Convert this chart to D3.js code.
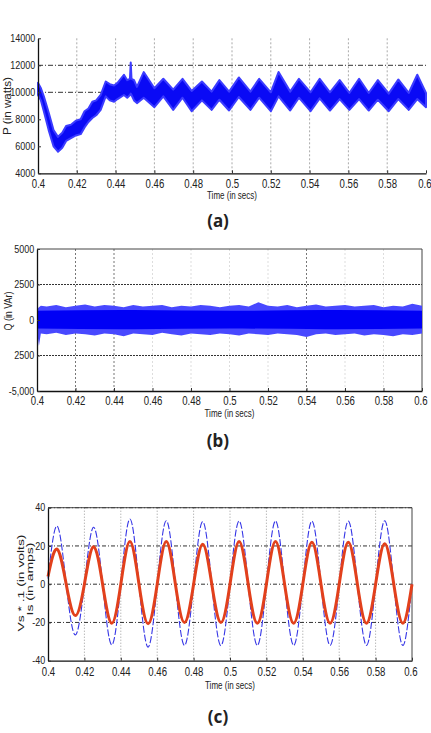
<!DOCTYPE html>
<html>
<head>
<meta charset="utf-8">
<script src="https://cdn.jsdelivr.net/npm/d3@7"></script>
<style>
  body { margin: 0; background: #fff; }
  svg { display: block; }
</style>
</head>
<body>
<div id="chart"></div>
<script>

// shared time axis
const timeTicks = [0.4, 0.42, 0.44, 0.46, 0.48, 0.5, 0.52, 0.54, 0.56, 0.58, 0.6];
const timeTickLabels = ["0.4", "0.42", "0.44", "0.46", "0.48", "0.5", "0.52", "0.54", "0.56", "0.58", "0.6"];

// (a) active power P, envelope of the noisy trace (watts)
const pTimes = [0.400, 0.4015, 0.403, 0.4055, 0.408, 0.4103, 0.4125, 0.4145, 0.417, 0.4195,
  0.422, 0.424, 0.426, 0.428, 0.430, 0.4323, 0.4349, 0.437, 0.4392, 0.441,
  0.4443, 0.446, 0.4474, 0.4478, 0.4482, 0.4495, 0.451, 0.4545, 0.4600, 0.4646,
  0.4697, 0.4745, 0.4792, 0.4845, 0.4895, 0.4935, 0.4985, 0.5035, 0.5095, 0.5140,
  0.5200, 0.5240, 0.5300, 0.5345, 0.5405, 0.5452, 0.5505, 0.5555, 0.5605, 0.5655,
  0.5705, 0.5752, 0.5808, 0.5857, 0.5911, 0.5955, 0.600];
const pUpper = [10700, 10300, 9700, 8500, 7200, 6700, 7000, 7500, 7600, 7900,
  8000, 8600, 8800, 9300, 9400, 9800, 10800, 10600, 10500, 10700,
  11300, 10900, 11000, 12200, 11000, 10900, 10400, 11500, 10300, 11000,
  10200, 11000, 10100, 10800, 10050, 10900, 10050, 11100, 10050, 11000,
  10000, 11500, 10050, 11000, 10000, 11000, 10000, 10900, 9950, 11000,
  9950, 10900, 9900, 10950, 9950, 11300, 9950];
const pLower = [9800, 9400, 8600, 7200, 6000, 5600, 5900, 6400, 6600, 6800,
  6900, 7400, 7800, 8100, 8300, 8700, 9700, 9400, 9300, 9500,
  9800, 9600, 9800, 9900, 9800, 9400, 9200, 9600, 8900, 9700,
  8700, 9600, 8600, 9400, 8700, 9450, 8650, 9650, 8700, 9600,
  8600, 9700, 8650, 9600, 8600, 9550, 8650, 9500, 8700, 9500,
  8650, 9450, 8600, 9500, 8700, 9500, 8900];
const pTicks = [4000, 6000, 8000, 10000, 12000, 14000];
const pTickLabels = ["4000", "6000", "8000", "10000", "12000", "14000"];
const pGrid = [10000, 12000];

// (b) reactive power Q, outer envelope and dense core (VAr)
const qTimes = [0.400, 0.401, 0.402, 0.405, 0.410, 0.415, 0.420, 0.425, 0.430, 0.435,
  0.440, 0.445, 0.450, 0.455, 0.460, 0.465, 0.470, 0.475, 0.480, 0.485,
  0.490, 0.495, 0.500, 0.505, 0.510, 0.515, 0.520, 0.525, 0.530, 0.535,
  0.540, 0.545, 0.550, 0.555, 0.560, 0.565, 0.570, 0.575, 0.580, 0.585,
  0.590, 0.595, 0.600];
const qUpper = [750, 900, 1000, 950, 1050, 900, 1000, 1100, 950, 1050,
  1000, 900, 1050, 950, 1000, 1050, 900, 1000, 950, 1050,
  1000, 900, 1000, 1050, 950, 1250, 1000, 950, 1050, 900,
  1000, 1100, 950, 1000, 1050, 950, 1000, 1050, 900, 1000,
  950, 1150, 1000];
const qLower = [-700, -1830, -950, -1000, -900, -1050, -950, -1000, -1100, -950,
  -1000, -1150, -950, -1000, -1050, -900, -1000, -1100, -950, -1000,
  -1050, -950, -1000, -1100, -950, -1000, -1050, -950, -1000, -1050,
  -1200, -1000, -950, -1050, -1000, -950, -1100, -1000, -1050, -1150,
  -1000, -1050, -950];
const qCoreTimes = [0.4, 0.45, 0.5, 0.55, 0.6];
const qCoreUpper = [650, 700, 650, 700, 650];
const qCoreLower = [-600, -650, -600, -650, -600];
const qTicks = [-5000, -2500, 0, 2500, 5000];
const qTickLabels = ["-5,000", "2500", "0", "2500", "5000"];
const qGrid = [-2500, 2500];
const qDarkGrid = [0.42, 0.44, 0.54];

// (c) source voltage * 0.1 (blue dashed) and source current (red), quarter-period samples
const cTimes = [0.400, 0.405, 0.410, 0.415, 0.420, 0.425, 0.430, 0.435, 0.440, 0.445,
  0.450, 0.455, 0.460, 0.465, 0.470, 0.475, 0.480, 0.485, 0.490, 0.495,
  0.500, 0.505, 0.510, 0.515, 0.520, 0.525, 0.530, 0.535, 0.540, 0.545,
  0.550, 0.555, 0.560, 0.565, 0.570, 0.575, 0.580, 0.585, 0.590, 0.595, 0.600];
const vsScaled = [3, 30.4, 0, -26.5, 0, 29.8, 0, -31.7, 0, 34.1,
  0, -32.9, 0, 33.2, 0, -32, 0, 32.7, 0, -32.1,
  0, 33, 0, -32, 0, 33, 0, -32, 0, 33,
  0, -32, 0, 33, 0, -32, 0, 33.2, 0, -32, 0];
const isCurrent = [4, 18.3, 0, -16.4, 0, 19.6, 0, -20.4, 0, 22.3,
  0, -20.7, 0, 22.3, 0, -20, 0, 20.9, 0, -20,
  0, 22.3, 0, -20.4, 0, 22.3, 0, -20.4, 0, 21.9,
  0, -20.4, 0, 21.9, 0, -20.4, 0, 21.2, 0, -20.4, 0];
const cTicks = [-40, -20, 0, 20, 40];
const cTickLabels = ["-40", "-20", "0", "20", "40"];
const cGrid = [-20, 0, 20, 40];


const width = 431, height = 733;
const tickFont = "'Liberation Sans Narrow', 'Liberation Sans', Arial, sans-serif";

const svg = d3.select("#chart")
  .append("svg")
  .attr("width", width)
  .attr("height", height)
  .style("font-family", tickFont);


function makePanel(s) {
  const x = d3.scaleLinear().domain([0.4, 0.6]).range([s.left, s.right]);
  const y = d3.scaleLinear().domain(s.yDomain).range([s.bottom, s.top]);
  const g = svg.append("g");

  // vertical grid
  g.append("g")
    .selectAll("line")
    .data(timeTicks.slice(1, -1))
    .join("line")
      .attr("x1", d => x(d)).attr("x2", d => x(d))
      .attr("y1", s.top).attr("y2", s.bottom)
      .attr("stroke", d => s.darkV && s.darkV.includes(d) ? "#777" : s.vColor)
      .attr("stroke-width", 1)
      .attr("stroke-dasharray", s.vDash);

  // horizontal grid
  g.append("g")
    .selectAll("line")
    .data(s.hGrid)
    .join("line")
      .attr("x1", s.left).attr("x2", s.right)
      .attr("y1", d => y(d)).attr("y2", d => y(d))
      .attr("stroke", "#333")
      .attr("stroke-width", 1)
      .attr("stroke-dasharray", s.hDash);

  if (s.boxed) {
    g.append("line")
      .attr("x1", s.left).attr("x2", s.right)
      .attr("y1", s.top).attr("y2", s.top)
      .attr("stroke", "#444");
    g.append("line")
      .attr("x1", s.right).attr("x2", s.right)
      .attr("y1", s.top).attr("y2", s.bottom)
      .attr("stroke", "#444");
  }

  const dataLayer = g.append("g");

  const xAxis = g.append("g")
    .attr("transform", `translate(0,${s.bottom})`)
    .call(d3.axisBottom(x)
      .tickValues(timeTicks)
      .tickFormat((d, i) => timeTickLabels[i])
      .tickSizeInner(-3)
      .tickSizeOuter(0)
      .tickPadding(s.xPad));
  xAxis.selectAll("text")
    .attr("transform", "scale(0.8,1)")
    .style("font-size", "12px")
    .attr("fill", "#222");
  // last label sits on the page edge
  xAxis.selectAll(".tick:last-of-type text").attr("x", -2);

  const yAxis = g.append("g")
    .attr("transform", `translate(${s.left},0)`)
    .call(d3.axisLeft(y)
      .tickValues(s.yTicks)
      .tickFormat((d, i) => s.yTickLabels[i])
      .tickSizeInner(-3)
      .tickSizeOuter(0)
      .tickPadding(3));
  yAxis.selectAll("text")
    .attr("transform", "scale(0.9,1)")
    .style("font-size", "10px")
    .attr("fill", "#222");

  [xAxis, yAxis].forEach(a => {
    a.select(".domain").attr("stroke", "#111").attr("stroke-width", 1.3);
    a.selectAll(".tick line").attr("stroke", "#333");
  });

  g.append("text")
    .attr("x", (s.left + s.right) / 2)
    .attr("y", s.titleY)
    .attr("text-anchor", "middle")
    .attr("textLength", 50)
    .attr("lengthAdjust", "spacingAndGlyphs")
    .style("font-size", "11.5px")
    .attr("fill", "#222")
    .text("Time (in secs)");

  s.yTitles.forEach(t => {
    g.append("text")
      .attr("transform", `translate(${t.x},${t.y}) rotate(-90)`)
      .attr("text-anchor", "middle")
      .attr("dy", "0.35em")
      .attr("textLength", t.len)
      .attr("lengthAdjust", "spacingAndGlyphs")
      .style("font-size", t.size + "px")
      .attr("fill", "#222")
      .text(t.text);
  });

  svg.append("text")
    .attr("x", 218)
    .attr("y", s.captionY)
    .attr("text-anchor", "middle")
    .style("font-family", "'Noto Sans', 'DejaVu Sans', sans-serif")
    .style("font-weight", "bold")
    .style("font-size", "17px")
    .attr("fill", "#222")
    .text(s.caption);

  return { x, y, layer: dataLayer };
}


// ---- (a)
const pa = makePanel({
  left: 38, right: 426, top: 38.3, bottom: 173.3,
  yDomain: [4000, 14000], yTicks: pTicks, yTickLabels: pTickLabels,
  hGrid: pGrid, hDash: "5,2,1,2", vColor: "#aaa", vDash: "2,2",
  boxed: false, xPad: 6, titleY: 199,
  yTitles: [{ text: "P (in watts)", x: 7.5, y: 106, len: 58, size: 11 }],
  caption: "(a)", captionY: 227
});

const pData = pTimes.map((t, i) => ({ t, hi: pUpper[i], lo: pLower[i] }));
pa.layer.append("path")
  .datum(pData)
  .attr("fill", "#0a0af5")
  .attr("stroke", "#3c3cff")
  .attr("stroke-width", 2)
  .attr("stroke-linejoin", "round")
  .attr("d", d3.area()
    .x(d => pa.x(d.t))
    .y0(d => pa.y(d.lo))
    .y1(d => pa.y(d.hi)));


// ---- (b)
const pb = makePanel({
  left: 37, right: 422, top: 249, bottom: 391,
  yDomain: [-5000, 5000], yTicks: qTicks, yTickLabels: qTickLabels,
  hGrid: qGrid, hDash: "2,1", vColor: "#ddd", vDash: "2,2", darkV: qDarkGrid,
  boxed: true, xPad: 5.5, titleY: 417,
  yTitles: [{ text: "Q (in VAr)", x: 8, y: 311, len: 39, size: 11 }],
  caption: "(b)", captionY: 447
});

const qData = qTimes.map((t, i) => ({ t, hi: qUpper[i], lo: qLower[i] }));
const qCore = qCoreTimes.map((t, i) => ({ t, hi: qCoreUpper[i], lo: qCoreLower[i] }));
const qArea = d3.area()
  .x(d => pb.x(d.t))
  .y0(d => pb.y(d.lo))
  .y1(d => pb.y(d.hi));
pb.layer.append("path")
  .datum(qData)
  .attr("fill", "#4848ff")
  .attr("d", qArea);
pb.layer.append("path")
  .datum(qCore)
  .attr("fill", "#0000f5")
  .attr("d", qArea.curve(d3.curveNatural));


// ---- (c)
const pc = makePanel({
  left: 48, right: 412, top: 507.7, bottom: 660.7,
  yDomain: [-40, 40], yTicks: cTicks, yTickLabels: cTickLabels,
  hGrid: cGrid, hDash: "4,2,1,2", vColor: "#999", vDash: "1,2",
  boxed: true, xPad: 6.8, titleY: 689,
  yTitles: [
    { text: "Vs * .1 (in volts)", x: 20.5, y: 583, len: 97, size: 9.5 },
    { text: "Is (in amps)", x: 29.5, y: 579, len: 73, size: 9.5 }
  ],
  caption: "(c)", captionY: 723
});

const cLine = series => d3.line()
  .x((d, i) => pc.x(cTimes[i]))
  .y(d => pc.y(d))
  .curve(d3.curveNatural)(series);

pc.layer.append("path")
  .attr("d", cLine(vsScaled))
  .attr("fill", "none")
  .attr("stroke", "#3636e6")
  .attr("stroke-width", 1.1)
  .attr("stroke-dasharray", "7,2");

pc.layer.append("path")
  .attr("d", cLine(isCurrent))
  .attr("fill", "none")
  .attr("stroke", "#e2401c")
  .attr("stroke-width", 3);

</script>
</body>
</html>
